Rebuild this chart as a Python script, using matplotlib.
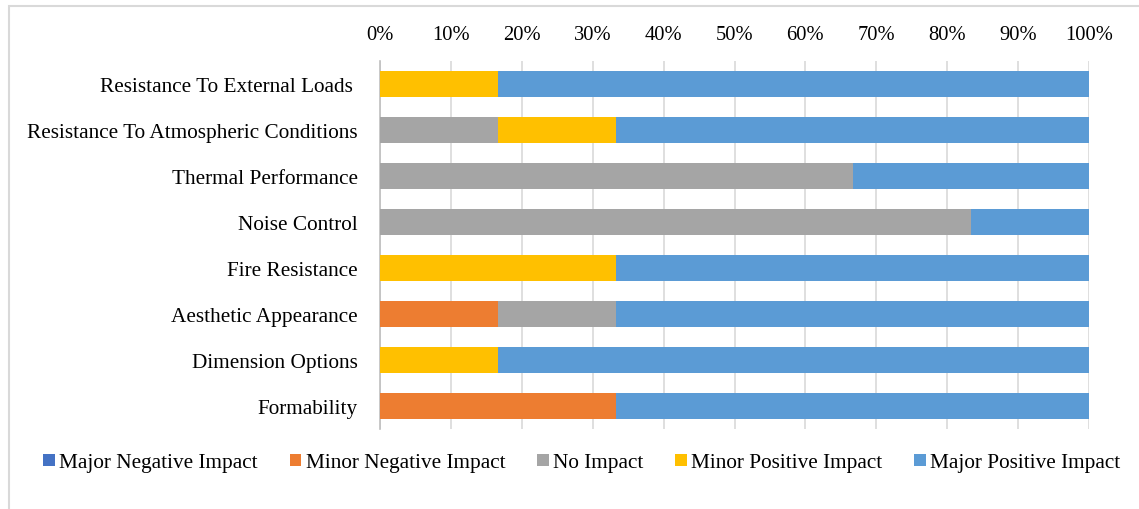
import matplotlib
matplotlib.use("Agg")
import matplotlib.pyplot as plt
from matplotlib.patches import Rectangle
import numpy as np

categories = ["Resistance To External Loads ", "Resistance To Atmospheric Conditions",
              "Thermal Performance", "Noise Control", "Fire Resistance",
              "Aesthetic Appearance", "Dimension Options", "Formability"]
series_names = ["Major Negative Impact", "Minor Negative Impact", "No Impact",
                "Minor Positive Impact", "Major Positive Impact"]
major_negative = [0, 0, 0, 0, 0, 0, 0, 0]
minor_negative = [0, 0, 0, 0, 0, 16.67, 0, 33.33]
no_impact = [0, 16.67, 66.67, 83.33, 0, 16.67, 0, 0]
minor_positive = [16.67, 16.67, 0, 0, 33.33, 0, 16.67, 0]
major_positive = [83.33, 66.67, 33.33, 16.67, 66.67, 66.67, 83.33, 66.67]
colors = ["#4472C4", "#ED7D31", "#A5A5A5", "#FFC000", "#5B9BD5"]
xticks = list(range(0, 101, 10))

plt.rcParams['font.family'] = ['Liberation Serif', 'DejaVu Serif']

fig = plt.figure(figsize=(11.39, 5.10), dpi=100)
fig.patches.append(Rectangle((9/1139, -0.1), 1.2, 1 - 7/510 + 0.1, transform=fig.transFigure,
                             fill=False, edgecolor="#D9D9D9", linewidth=1.5))
ax = fig.add_axes([380/1139, 1 - 430/510, (1089-380)/1139, 368/510])

y = np.arange(len(categories))
left = np.zeros(len(categories))
for name, vals, c in zip(series_names, [major_negative, minor_negative, no_impact,
                                         minor_positive, major_positive], colors):
    vals = np.array(vals)
    ax.barh(y, vals, left=left, height=0.56, color=c, label=name, zorder=3)
    left += vals

ax.set_ylim(len(categories) - 0.5, -0.5)
ax.set_xlim(0, 100)
ax.set_yticks(y)
ax.set_yticklabels(categories, fontsize=15.3)
ax.set_xticks(xticks)
ax.set_xticklabels([f"{t}%" for t in xticks], fontsize=14.8)
ax.xaxis.tick_top()
ax.tick_params(axis='y', length=0, pad=16)
ax.tick_params(axis='x', length=0, pad=12)
ax.grid(axis='x', color="#D9D9D9", linewidth=1.2, zorder=0)
for s in ["top", "right", "bottom"]:
    ax.spines[s].set_visible(False)
ax.spines["left"].set_color("#BFBFBF")
ax.spines["left"].set_linewidth(1.2)

handles, labels = ax.get_legend_handles_labels()
fig.legend(handles, labels, loc="center", bbox_to_anchor=(582/1139, 1 - 464/510),
           ncol=5, frameon=False, fontsize=15.3, handlelength=0.55, handleheight=0.55,
           handletextpad=0.2, columnspacing=1.5)

fig.savefig("out.png", dpi=100)
